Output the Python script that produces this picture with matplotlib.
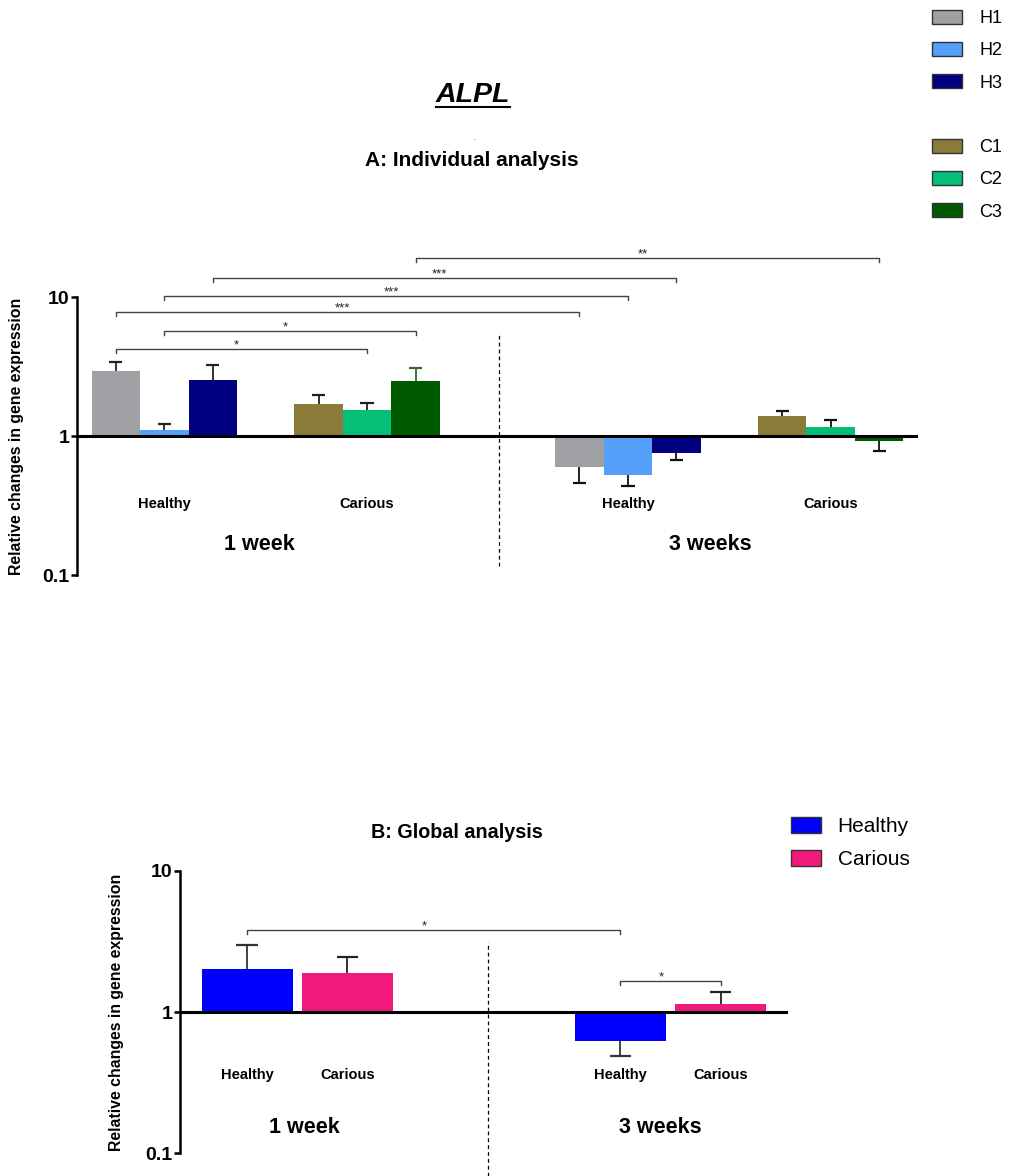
import numpy as np
import matplotlib
matplotlib.use('Agg')
import matplotlib.pyplot as plt
from matplotlib.patches import Patch
from matplotlib.lines import Line2D

plt.rcParams['font.family'] = ['Liberation Sans', 'DejaVu Sans']

W, H = 1014, 1176

# individual donors: mean relative expression and SEM
donors = ['H1', 'H2', 'H3', 'C1', 'C2', 'C3']
donor_colors = ['#A0A0A4', '#55A0FA', '#000080', '#8B7B3A', '#05BF78', '#005A00']
wk1_healthy = [2.94, 1.10, 2.53]
wk1_healthy_sem = [0.49, 0.13, 0.73]
wk1_carious = [1.70, 1.54, 2.49]
wk1_carious_sem = [0.26, 0.20, 0.59]
wk3_healthy = [0.60, 0.52, 0.75]
wk3_healthy_sem = [0.14, 0.08, 0.08]
wk3_carious = [1.39, 1.16, 0.925]
wk3_carious_sem = [0.13, 0.15, 0.145]

# pooled donors
groups = ['Healthy', 'Carious']
group_colors = ['#0000FF', '#F2197D']
glob_wk1 = [2.03, 1.88]
glob_wk1_sem = [0.94, 0.56]
glob_wk3 = [0.62, 1.15]
glob_wk3_sem = [0.13, 0.24]

weeks = ['1 week', '3 weeks']

# comparisons: (set, bar) -> (set, bar), stars, bracket height
sig_a = [((0, 0), (1, 1), '*', 4.25),
         ((0, 1), (1, 2), '*', 5.69),
         ((0, 0), (2, 0), '***', 7.76),
         ((0, 1), (2, 1), '***', 10.2),
         ((0, 2), (2, 2), '***', 13.7),
         ((1, 2), (3, 2), '**', 19.0)]
sig_b = [((0, 0), (1, 0), '*', 3.84),
         ((1, 0), (1, 1), '*', 1.66)]


def fpos(x, y):
    return x / W, 1 - y / H


def err_bars(ax, xs, vals, sems, cap, colors, lw=1.3):
    for x, v, s, c in zip(xs, vals, sems, colors):
        end = v + s if v >= 1 else v - s
        ax.vlines(x, v, end, color=c, lw=lw, zorder=2)
        ax.hlines(end, x - cap, x + cap, color=c, lw=lw + 0.3, zorder=2)


def bracket(ax, x0, x1, y, label):
    yb = y * 10 ** (-0.028)
    ax.plot([x0, x0, x1, x1], [yb, y, y, yb], color='#444444', lw=1.0,
            clip_on=False, zorder=4)
    ax.annotate(label, ((x0 + x1) / 2 - 0.1, y), xytext=(0, 0.5),
                textcoords='offset points', ha='center', va='baseline',
                fontsize=9.5, color='#222222', annotation_clip=False)


def style_axis(ax):
    ax.set_yscale('log')
    ax.set_ylim(0.1, 10)
    for s in ['top', 'right', 'bottom']:
        ax.spines[s].set_visible(False)
    ax.spines['left'].set_linewidth(1.8)
    ax.set_yticks([0.1, 1, 10])
    ax.set_yticklabels(['0.1', '1', '10'], fontsize=14, fontweight='bold')
    ax.yaxis.set_minor_locator(matplotlib.ticker.NullLocator())
    ax.tick_params(axis='y', direction='out', length=4.5, width=1.8, pad=1)
    ax.set_xticks([])
    ax.axhline(1, color='black', lw=2.2, zorder=3)
    ax.set_ylabel('Relative changes in gene expression', fontsize=11.4,
                  fontweight='bold')


fig = plt.figure(figsize=(W / 100, H / 100), dpi=100)

# ---- A: individual analysis ----
axA = fig.add_axes([77 / W, 1 - 575 / H, 841 / W, 278 / H])
style_axis(axA)
axA.set_xlim(0, 841 / 48.5)
axA.yaxis.set_label_coords(-0.063, 0.5)

centres_a = [1.8, 5.98, 11.36, 15.54]
offs = np.array([-1, 0, 1])
sets_a = [(wk1_healthy, wk1_healthy_sem, donor_colors[:3]),
          (wk1_carious, wk1_carious_sem, donor_colors[3:]),
          (wk3_healthy, wk3_healthy_sem, donor_colors[:3]),
          (wk3_carious, wk3_carious_sem, donor_colors[3:])]
bar_x = []
for c, (vals, sems, cols) in zip(centres_a, sets_a):
    xs = c + offs
    bar_x.append(xs)
    axA.bar(xs, np.array(vals) - 1, bottom=1, width=1.0, color=cols,
            zorder=1)
ecols = [['#222222'] * 3, ['#222222', '#222222', '#2E6B2E'],
         ['#111111'] * 3, ['#111111'] * 3]
for xs, (vals, sems, _), ec in zip(bar_x, sets_a, ecols):
    err_bars(axA, xs, vals, sems, 0.135, ec)

for c, g in zip(centres_a, groups * 2):
    axA.text(c, 0.324, g, ha='center', va='center', fontsize=10.5,
             fontweight='bold')
axA.text(3.75, 0.167, weeks[0], ha='center', va='center', fontsize=15.5,
         fontweight='bold')
axA.text(13.05, 0.167, weeks[1], ha='center', va='center', fontsize=15.5,
         fontweight='bold')
axA.plot([8.70, 8.70], [0.116, 5.42], color='black', lw=0.9,
         ls=(0, (3, 2.5)), clip_on=False)

for (s0, b0), (s1, b1), lab, lvl in sig_a:
    bracket(axA, bar_x[s0][b0], bar_x[s1][b1], lvl, lab)

# ---- B: global analysis ----
axB = fig.add_axes([180 / W, 1 - 1153.3 / H, 608.3 / W, 282.3 / H])
style_axis(axB)
axB.set_xlim(0, 608.3 / 91)
axB.yaxis.set_label_coords(-0.092, 0.5)

centres_b = [1.29, 5.39]
offs_b = np.array([-0.55, 0.55])
bar_xb = []
for c, vals, sems in zip(centres_b, [glob_wk1, glob_wk3],
                         [glob_wk1_sem, glob_wk3_sem]):
    xs = c + offs_b
    bar_xb.append(xs)
    axB.bar(xs, np.array(vals) - 1, bottom=1, width=1.0, color=group_colors,
            zorder=1)
    err_bars(axB, xs, vals, sems, 0.12, ['#333333', '#222222'])
    for x, g in zip(xs, groups):
        axB.text(x, 0.359, g, ha='center', va='center', fontsize=10.5,
                 fontweight='bold')
axB.text(1.37, 0.152, weeks[0], ha='center', va='center', fontsize=15.5,
         fontweight='bold')
axB.text(5.28, 0.152, weeks[1], ha='center', va='center', fontsize=15.5,
         fontweight='bold')
axB.plot([3.38, 3.38], [0.069, 3.16], color='black', lw=0.9,
         ls=(0, (3, 2.5)), clip_on=False)
for (s0, b0), (s1, b1), lab, lvl in sig_b:
    bracket(axB, bar_xb[s0][b0], bar_xb[s1][b1], lvl, lab)

# ---- titles ----
t = fig.text(*fpos(473, 95), 'ALPL', ha='center', va='center', fontsize=20.5,
             fontweight='bold', style='italic')
fig.text(*fpos(474, 139), '.', ha='center', va='center', fontsize=5)
fig.text(*fpos(471.7, 160), 'A: Individual analysis', ha='center',
         va='center', fontsize=15, fontweight='bold')
fig.text(*fpos(457, 833), 'B: Global analysis', ha='center', va='center',
         fontsize=14.2, fontweight='bold')

fig.canvas.draw()
bb = t.get_window_extent().transformed(fig.transFigure.inverted())
fig.add_artist(Line2D([bb.x0, bb.x1], [bb.y0 + 0.0010, bb.y0 + 0.0010],
                      color='black', lw=1.5, transform=fig.transFigure))

# ---- legends ----
blank = Patch(facecolor='none', edgecolor='none')
hA = [Patch(facecolor=c, edgecolor='#333333', lw=1) for c in donor_colors]
handlesA = hA[:3] + [blank] + hA[3:]
labelsA = donors[:3] + [''] + donors[3:]
fig.legend(handlesA, labelsA, loc='upper left',
           bbox_to_anchor=fpos(932, 10), frameon=False, fontsize=13,
           handlelength=1.67, handleheight=0.78, handletextpad=0.94,
           labelspacing=0.84, borderpad=0, borderaxespad=0)

hB = [Patch(facecolor=c, edgecolor='#333333', lw=1) for c in group_colors]
fig.legend(hB, groups, loc='upper left', bbox_to_anchor=fpos(791, 817),
           frameon=False, fontsize=15, handlelength=1.44, handleheight=0.77,
           handletextpad=0.8, labelspacing=0.69, borderpad=0,
           borderaxespad=0)

fig.savefig('out.png', dpi=100)
